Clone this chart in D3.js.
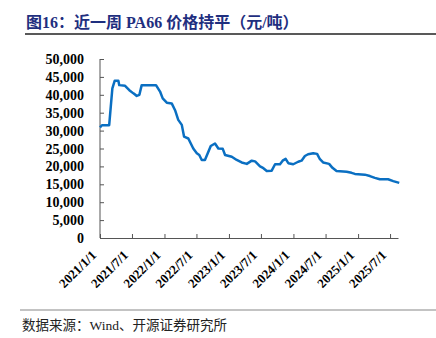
<!DOCTYPE html>
<html><head><meta charset="utf-8">
<script src="https://cdn.jsdelivr.net/npm/d3@7"></script>
<style>
html,body{margin:0;padding:0;background:#fff;}
svg{display:block;}
</style></head>
<body>
<script>
const titleText = "图16：近一周 PA66 价格持平（元/吨）";
const sourceText = "数据来源：Wind、开源证券研究所";
const dates = ["2021-01-01","2021-01-12","2021-02-22","2021-03-03","2021-03-12","2021-03-25","2021-04-15","2021-04-20","2021-05-23","2021-06-16","2021-07-09","2021-07-28","2021-08-12","2021-08-25","2021-11-14","2021-12-07","2021-12-22","2022-01-14","2022-02-11","2022-03-02","2022-03-20","2022-04-09","2022-04-22","2022-05-16","2022-06-13","2022-07-03","2022-07-17","2022-07-31","2022-08-18","2022-09-03","2022-09-20","2022-10-14","2022-11-02","2022-11-27","2022-12-10","2023-01-17","2023-02-14","2023-03-14","2023-04-12","2023-05-10","2023-05-29","2023-06-26","2023-07-15","2023-08-03","2023-08-31","2023-09-19","2023-10-17","2023-11-01","2023-11-18","2023-12-03","2023-12-31","2024-01-28","2024-02-16","2024-03-06","2024-03-24","2024-04-22","2024-05-14","2024-05-30","2024-06-17","2024-07-21","2024-08-09","2024-09-01","2024-10-28","2024-11-25","2024-12-14","2025-02-08","2025-03-09","2025-04-06","2025-05-04","2025-06-20","2025-07-19","2025-08-22"];
const prices = [30900,31500,31500,36700,41800,43900,43900,42700,42500,41300,40400,39700,40000,42700,42700,40900,39000,37800,37600,35700,33000,31600,28300,27800,25000,23700,23200,21800,21800,23700,25700,26400,25000,24900,23200,22700,21800,21100,20700,21600,21400,20000,19500,18700,18800,20600,20600,21600,22100,20900,20600,21300,21600,22900,23400,23700,23500,22000,21100,20700,19600,18700,18500,18200,17900,17700,17300,16800,16400,16400,15900,15400];
const xTickLabels = ["2021/1/1","2021/7/1","2022/1/1","2022/7/1","2023/1/1","2023/7/1","2024/1/1","2024/7/1","2025/1/1","2025/7/1"];
const yTicks = [0,5000,10000,15000,20000,25000,30000,35000,40000,45000,50000];

const W = 436, H = 338;
const svg = d3.select("body").append("svg").attr("width", W).attr("height", H);
const parse = d3.timeParse("%Y-%m-%d");
const parseTick = d3.timeParse("%Y/%m/%d");

const x = d3.scaleTime().domain([parse("2021-01-01"), parse("2025-08-15")]).range([100, 398]);
const y = d3.scaleLinear().domain([0, 50000]).range([238, 59]);

// title
svg.append("text").attr("x", 26).attr("y", 28)
  .attr("font-family", "'Liberation Serif','Noto Sans CJK SC',serif")
  .attr("font-weight", "bold").attr("font-size", 16).attr("fill", "#1f2f7f")
  .text(titleText);
svg.append("line").attr("x1", 25).attr("x2", 436).attr("y1", 34).attr("y2", 34)
  .attr("stroke", "#222").attr("stroke-width", 1.3);

// y axis
const axisColor = "#555";
const yAxis = svg.append("g").attr("transform", "translate(100,0)")
  .call(d3.axisRight(y).tickValues(yTicks).tickSize(4).tickFormat(""));
yAxis.select(".domain").attr("stroke", axisColor).attr("d", "M0,59V238");
yAxis.selectAll(".tick line").attr("stroke", axisColor);
svg.append("g").selectAll("text").data(yTicks).join("text")
  .attr("x", 84).attr("y", d => y(d) + 5).attr("text-anchor", "end")
  .attr("font-family", "'Liberation Serif',serif").attr("font-weight", "bold")
  .attr("font-size", 14).attr("fill", "#000")
  .text(d => d3.format(",")(d));

// x axis
const tickDates = xTickLabels.map(s => parseTick(s));
const xAxis = svg.append("g").attr("transform", "translate(0,238)")
  .call(d3.axisTop(x).tickValues(tickDates).tickSize(4).tickSizeOuter(0).tickFormat(""));
xAxis.select(".domain").attr("stroke", axisColor);
xAxis.selectAll(".tick line").attr("stroke", axisColor);
svg.append("g").selectAll("text").data(xTickLabels).join("text")
  .attr("transform", (d, i) => `translate(${x(tickDates[i]) - 3},${256}) rotate(-45)`)
  .attr("text-anchor", "end")
  .attr("font-family", "'Liberation Serif',serif").attr("font-weight", "bold")
  .attr("font-size", 13).attr("fill", "#000")
  .text(d => d);

// line
const data = dates.map((d, i) => ({ date: parse(d), v: prices[i] }));
svg.append("path").datum(data)
  .attr("fill", "none").attr("stroke", "#0a6fc2").attr("stroke-width", 2.5)
  .attr("stroke-linejoin", "round")
  .attr("d", d3.line().x(d => x(d.date)).y(d => y(d.v)));

// bottom
svg.append("line").attr("x1", 20).attr("x2", 436).attr("y1", 310).attr("y2", 310)
  .attr("stroke", "#888").attr("stroke-width", 1.2);
svg.append("text").attr("x", 22).attr("y", 330)
  .attr("font-family", "'Liberation Serif','Noto Sans CJK SC',serif")
  .attr("font-size", 13.5).attr("fill", "#222")
  .text(sourceText);
</script>
</body></html>
